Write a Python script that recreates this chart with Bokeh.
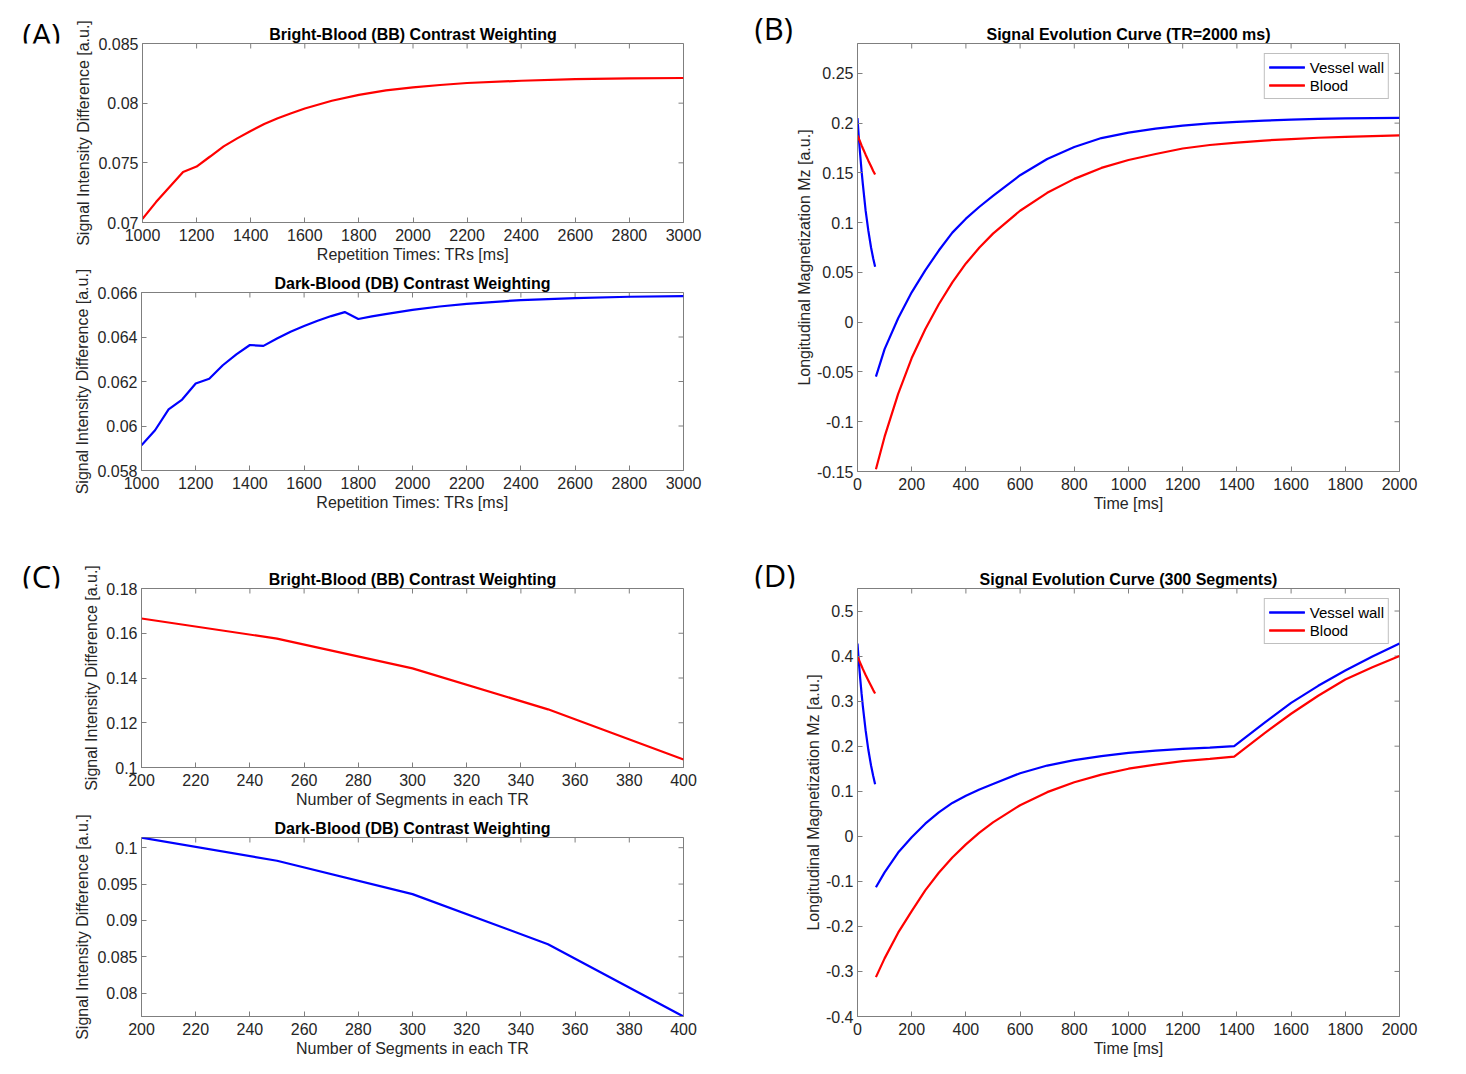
import math
from bokeh.plotting import figure
from bokeh.layouts import column, row
from bokeh.models import Range1d, FixedTicker, Label, Legend, LegendItem
from bokeh.embed import file_html
from bokeh.resources import INLINE

FONT = "Liberation Sans"
PANEL_FONT = "Open Sans"
TEXT_COLOR = "#262626"
AXIS_COLOR = "#7f7f7f"
BLUE = "#0000ff"
RED = "#ff0000"

# ---------------- Panel A : contrast vs repetition time ----------------
A_tr = [1000, 1050, 1100, 1150, 1200, 1250, 1300, 1350, 1400, 1450, 1500, 1550,
        1600, 1700, 1800, 1900, 2000, 2100, 2200, 2400, 2600, 2800, 3000]
A_bb = [0.07031, 0.07171, 0.07298, 0.07424, 0.07469, 0.07553, 0.07638, 0.07705,
        0.07767, 0.07826, 0.07874, 0.07916, 0.07955, 0.0802, 0.0807, 0.08107,
        0.08132, 0.08152, 0.08169, 0.08188, 0.08202, 0.08208, 0.08211]
A_db_tr = [1000, 1050, 1100, 1150, 1200, 1250, 1300, 1350, 1400, 1450, 1500, 1550,
           1600, 1650, 1700, 1750, 1800, 1850, 1900, 2000, 2100, 2200, 2400, 2600,
           2800, 3000]
A_db = [0.05913, 0.05981, 0.06075, 0.06119, 0.06191, 0.06212, 0.06273, 0.06322,
        0.06364, 0.0636, 0.06393, 0.06424, 0.06449, 0.06473, 0.06494, 0.06512,
        0.06481, 0.06493, 0.06503, 0.06522, 0.06537, 0.06549, 0.06566, 0.06575,
        0.06581, 0.06584]
A_x_ticks = [1000, 1200, 1400, 1600, 1800, 2000, 2200, 2400, 2600, 2800, 3000]
A_x_labels = ["1000", "1200", "1400", "1600", "1800", "2000", "2200", "2400", "2600", "2800", "3000"]
A_bb_y_ticks = [0.07, 0.075, 0.08, 0.085]
A_bb_y_labels = ["0.07", "0.075", "0.08", "0.085"]
A_db_y_ticks = [0.058, 0.06, 0.062, 0.064, 0.066]
A_db_y_labels = ["0.058", "0.06", "0.062", "0.064", "0.066"]

# ---------------- Panel B : signal evolution, TR = 2000 ms ----------------
B_t1 = [0, 5, 10, 15, 20, 30, 40, 50, 58, 65]
B_wall1 = [0.205, 0.185, 0.168, 0.152, 0.138, 0.112, 0.092, 0.075, 0.064, 0.0557]
B_blood1 = [0.1876, 0.1843, 0.181, 0.1777, 0.1745, 0.1683, 0.1623, 0.1566, 0.152, 0.1483]
B_t2 = [68, 100, 150, 200, 250, 300, 350, 400, 450, 500, 600, 700, 800, 900, 1000,
        1100, 1200, 1300, 1400, 1500, 1600, 1700, 1800, 1900, 2000]
B_wall2 = [-0.0547, -0.027, 0.004, 0.030, 0.052, 0.072, 0.090, 0.104, 0.116, 0.127,
           0.1477, 0.164, 0.176, 0.185, 0.1905, 0.1945, 0.1975, 0.1998, 0.2013,
           0.2026, 0.2035, 0.2042, 0.2047, 0.205, 0.2053]
B_blood2 = [-0.1477, -0.115, -0.072, -0.036, -0.007, 0.018, 0.040, 0.059, 0.075,
            0.089, 0.112, 0.130, 0.144, 0.155, 0.163, 0.169, 0.1745, 0.178, 0.1805,
            0.1825, 0.184, 0.1853, 0.1862, 0.187, 0.1876]
B_y_ticks = [-0.15, -0.1, -0.05, 0, 0.05, 0.1, 0.15, 0.2, 0.25]
B_y_labels = ["-0.15", "-0.1", "-0.05", "0", "0.05", "0.1", "0.15", "0.2", "0.25"]
T_x_ticks = [0, 200, 400, 600, 800, 1000, 1200, 1400, 1600, 1800, 2000]
T_x_labels = ["0", "200", "400", "600", "800", "1000", "1200", "1400", "1600", "1800", "2000"]

# ---------------- Panel C : contrast vs number of segments ----------------
C_seg = [200, 250, 300, 350, 400]
C_bb = [0.1666, 0.1576, 0.1443, 0.126, 0.1036]
C_db = [0.10138, 0.09821, 0.09362, 0.08674, 0.07679]
C_x_ticks = [200, 220, 240, 260, 280, 300, 320, 340, 360, 380, 400]
C_x_labels = ["200", "220", "240", "260", "280", "300", "320", "340", "360", "380", "400"]
C_bb_y_ticks = [0.1, 0.12, 0.14, 0.16, 0.18]
C_bb_y_labels = ["0.1", "0.12", "0.14", "0.16", "0.18"]
C_db_y_ticks = [0.08, 0.085, 0.09, 0.095, 0.1]
C_db_y_labels = ["0.08", "0.085", "0.09", "0.095", "0.1"]

# ---------------- Panel D : signal evolution, 300 segments ----------------
D_t1 = [0, 5, 10, 15, 20, 30, 40, 50, 58, 65]
D_wall1 = [0.428, 0.387, 0.350, 0.317, 0.287, 0.235, 0.192, 0.157, 0.134, 0.1156]
D_blood1 = [0.399, 0.392, 0.385, 0.378, 0.371, 0.358, 0.346, 0.334, 0.3245, 0.317]
D_t2 = [68, 100, 150, 200, 250, 300, 350, 400, 450, 500, 600, 700, 800, 900, 1000,
        1100, 1200, 1300, 1390, 1500, 1600, 1700, 1800, 1900, 2000]
D_wall2 = [-0.113, -0.080, -0.036, -0.002, 0.028, 0.053, 0.074, 0.090, 0.104, 0.116,
           0.140, 0.157, 0.169, 0.178, 0.185, 0.190, 0.194, 0.197, 0.2, 0.251, 0.296,
           0.334, 0.368, 0.399, 0.428]
D_blood2 = [-0.3126, -0.271, -0.214, -0.166, -0.120, -0.081, -0.047, -0.018, 0.008,
            0.031, 0.069, 0.098, 0.120, 0.137, 0.150, 0.159, 0.167, 0.172, 0.177,
            0.228, 0.272, 0.312, 0.348, 0.375, 0.4]
D_y_ticks = [-0.4, -0.3, -0.2, -0.1, 0, 0.1, 0.2, 0.3, 0.4, 0.5]
D_y_labels = ["-0.4", "-0.3", "-0.2", "-0.1", "0", "0.1", "0.2", "0.3", "0.4", "0.5"]

PANEL_LETTERS = ["(A)", "(B)", "(C)", "(D)"]


def make_panel(width, height, borders, xr, yr, title, xticks, xlabels, yticks, ylabels,
               xlabel, ylabel, y_standoffs=(4, 3)):
    left, right, top, bottom = borders
    p = figure(width=width, height=height, output_backend="svg", toolbar_location=None,
               x_range=Range1d(*xr), y_range=Range1d(*yr), title=title,
               min_border_left=left, min_border_right=right,
               min_border_top=top, min_border_bottom=bottom)
    p.background_fill_color = "white"
    p.border_fill_color = "white"
    p.outline_line_color = AXIS_COLOR
    p.outline_line_width = 1
    p.xgrid.visible = False
    p.ygrid.visible = False
    p.title.text_font = FONT
    p.title.text_font_size = "16px"
    p.title.text_font_style = "bold"
    p.title.text_color = "black"
    p.title.align = "center"
    p.title.standoff = 2

    xa = p.xaxis[0]
    ya = p.yaxis[0]
    for ax, ticks, labels in ((xa, xticks, xlabels), (ya, yticks, ylabels)):
        ax.ticker = FixedTicker(ticks=ticks)
        ax.major_label_overrides = dict(zip(ticks, labels))
        ax.major_tick_in = 5
        ax.major_tick_out = 0
        ax.minor_tick_line_color = None
        ax.major_tick_line_color = AXIS_COLOR
        ax.axis_line_color = AXIS_COLOR
        ax.major_label_text_font = FONT
        ax.major_label_text_font_size = "16px"
        ax.major_label_text_color = TEXT_COLOR
        ax.axis_label_text_font = FONT
        ax.axis_label_text_font_size = "16px"
        ax.axis_label_text_font_style = "normal"
        ax.axis_label_text_color = TEXT_COLOR
    xa.axis_label = xlabel
    xa.major_label_standoff = 6
    xa.axis_label_standoff = 2
    ya.axis_label = ylabel
    ya.major_label_standoff = y_standoffs[0]
    ya.axis_label_standoff = y_standoffs[1]

    # inward ticks on the top and right edges of the box (MATLAB "box on")
    p.ray(x=xticks, y=[yr[1]] * len(xticks), length=5, length_units="screen",
          angle=-math.pi / 2, line_color=AXIS_COLOR, line_width=1)
    p.ray(x=[xr[1]] * len(yticks), y=yticks, length=5, length_units="screen",
          angle=math.pi, line_color=AXIS_COLOR, line_width=1)
    return p


def letter_box(text, width, height, x, y_center_from_top):
    # small borderless canvas that carries the panel letter
    p = figure(width=width, height=height, output_backend="svg", toolbar_location=None,
               x_range=Range1d(0, width), y_range=Range1d(0, height),
               x_axis_type=None, y_axis_type=None, min_border=0)
    p.outline_line_color = None
    p.background_fill_color = "white"
    p.border_fill_color = "white"
    p.grid.visible = False
    p.add_layout(Label(x=x, y=height - y_center_from_top, text=text,
                       text_font=PANEL_FONT, text_font_size="31px", text_color="black",
                       text_baseline="middle", text_align="left"))
    return p


LW = 2.2

# (A) top
a_top = make_panel(668, 270, (69, 57, 43, 48), (1000, 3000), (0.07, 0.085),
                   "Bright-Blood (BB) Contrast Weighting", A_x_ticks, A_x_labels,
                   A_bb_y_ticks, A_bb_y_labels, "Repetition Times: TRs [ms]",
                   "Signal Intensity Difference [a.u.]")
a_top.line(A_tr, A_bb, line_color=RED, line_width=LW)
let_a = letter_box(PANEL_LETTERS[0], 72, 70, 22, 37)

# (A) bottom
a_bot = make_panel(740, 260, (141, 57, 22, 60), (1000, 3000), (0.058, 0.066),
                   "Dark-Blood (DB) Contrast Weighting", A_x_ticks, A_x_labels,
                   A_db_y_ticks, A_db_y_labels, "Repetition Times: TRs [ms]",
                   "Signal Intensity Difference [a.u.]")
a_bot.line(A_db_tr, A_db, line_color=BLUE, line_width=LW)

# (B)
b = make_panel(665, 530, (64, 59, 43, 59), (0, 2000), (-0.15, 0.28),
               "Signal Evolution Curve (TR=2000 ms)", T_x_ticks, T_x_labels,
               B_y_ticks, B_y_labels, "Time [ms]", "Longitudinal Magnetization Mz [a.u.]",
               y_standoffs=(4, 1))
bw1 = b.line(B_t1, B_wall1, line_color=BLUE, line_width=LW)
bw2 = b.line(B_t2, B_wall2, line_color=BLUE, line_width=LW)
bb1 = b.line(B_t1, B_blood1, line_color=RED, line_width=LW)
bb2 = b.line(B_t2, B_blood2, line_color=RED, line_width=LW)
let_b = letter_box(PANEL_LETTERS[1], 53, 70, 14, 37)

# (C) top
c_top = make_panel(668, 284, (69, 57, 58, 47), (200, 400), (0.1, 0.18),
                   "Bright-Blood (BB) Contrast Weighting", C_x_ticks, C_x_labels,
                   C_bb_y_ticks, C_bb_y_labels, "Number of Segments in each TR",
                   "Signal Intensity Difference [a.u.]")
c_top.line(C_seg, C_bb, line_color=RED, line_width=LW)
let_c = letter_box(PANEL_LETTERS[2], 72, 80, 22, 40)

# (C) bottom
c_bot = make_panel(740, 252, (141, 57, 23, 50), (200, 400), (0.0768, 0.1014),
                   "Dark-Blood (DB) Contrast Weighting", C_x_ticks, C_x_labels,
                   C_db_y_ticks, C_db_y_labels, "Number of Segments in each TR",
                   "Signal Intensity Difference [a.u.]")
c_bot.line(C_seg, C_db, line_color=BLUE, line_width=LW)

# (D)
d = make_panel(661, 536, (60, 59, 58, 50), (0, 2000), (-0.4, 0.55),
               "Signal Evolution Curve (300 Segments)", T_x_ticks, T_x_labels,
               D_y_ticks, D_y_labels, "Time [ms]", "Longitudinal Magnetization Mz [a.u.]",
               y_standoffs=(4, 1))
dw1 = d.line(D_t1, D_wall1, line_color=BLUE, line_width=LW)
dw2 = d.line(D_t2, D_wall2, line_color=BLUE, line_width=LW)
db1 = d.line(D_t1, D_blood1, line_color=RED, line_width=LW)
db2 = d.line(D_t2, D_blood2, line_color=RED, line_width=LW)
let_d = letter_box(PANEL_LETTERS[3], 57, 80, 14, 40)


def add_legend(p, wall, blood):
    leg = Legend(items=[LegendItem(label="Vessel wall", renderers=wall),
                        LegendItem(label="Blood", renderers=blood)],
                 location="top_right", margin=10, padding=4, spacing=0,
                 glyph_width=36, glyph_height=18, label_height=18, label_standoff=5,
                 label_text_font=FONT, label_text_font_size="15px",
                 label_text_color="black", border_line_color=AXIS_COLOR,
                 border_line_width=1, background_fill_color="white",
                 background_fill_alpha=1.0)
    p.add_layout(leg)


add_legend(b, [bw1, bw2], [bb1, bb2])
add_legend(d, [dw1, dw2], [db1, db2])

layout = column(
    row(column(row(let_a, a_top), a_bot), row(let_b, b)),
    row(column(row(let_c, c_top), c_bot), row(let_d, d)),
)

with open("out.html", "w") as f:
    f.write(file_html(layout, INLINE))
